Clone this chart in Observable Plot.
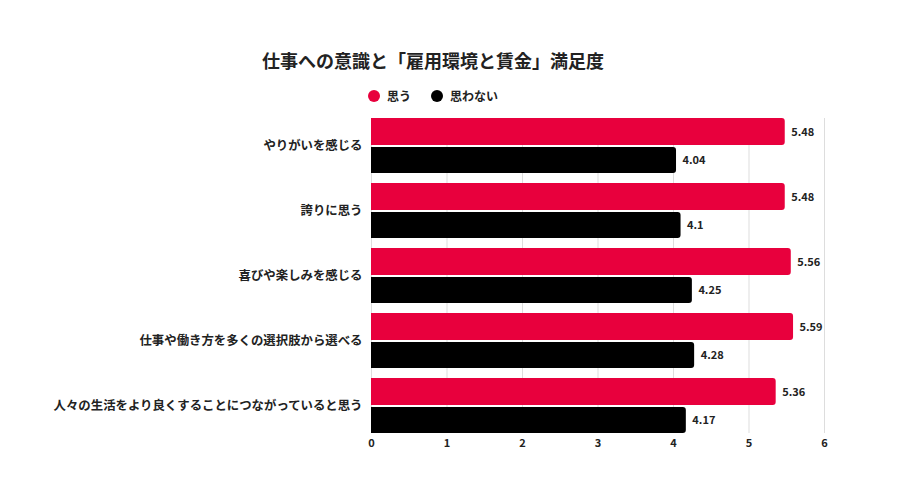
<!DOCTYPE html>
<html>
<head>
<meta charset="utf-8">
<script src="https://cdn.jsdelivr.net/npm/d3@7"></script>
<script src="https://cdn.jsdelivr.net/npm/@observablehq/plot@0.6"></script>
<style>
  html, body { margin: 0; padding: 0; background: #fff; }
  body { width: 900px; height: 500px; position: relative; overflow: hidden;
         font-family: "Noto Sans CJK JP", "Noto Sans", sans-serif; color: #222; }
  #title { position: absolute; left: 262px; top: 48px; font-size: 18px; font-weight: 700; line-height: 24px; white-space: nowrap; }
  #legend { position: absolute; left: 368px; top: 88px; font-size: 12px; font-weight: 700; line-height: 16px; display: flex; align-items: center; white-space: nowrap; }
  .item { display: flex; align-items: center; margin-right: 20px; }
  .dot { width: 12px; height: 12px; border-radius: 50%; display: inline-block; margin-right: 7px; }
  #chart { position: absolute; left: 0; top: 105px; }
</style>
</head>
<body>
<div id="title"></div>
<div id="legend"></div>
<div id="chart"></div>
<script>
const titleText = "仕事への意識と「雇用環境と賃金」満足度";
const categories = [
  "やりがいを感じる",
  "誇りに思う",
  "喜びや楽しみを感じる",
  "仕事や働き方を多くの選択肢から選べる",
  "人々の生活をより良くすることにつながっていると思う"
];
const seriesNames = ["思う", "思わない"];
const seriesColors = ["#e8003d", "#000000"];
const valuesYes = [5.48, 5.48, 5.56, 5.59, 5.36];
const valuesNo = [4.04, 4.1, 4.25, 4.28, 4.17];
const xTicks = [0, 1, 2, 3, 4, 5, 6];

document.getElementById("title").textContent = titleText;
const legend = document.getElementById("legend");
seriesNames.forEach((name, i) => {
  const item = document.createElement("span");
  item.className = "item";
  const dot = document.createElement("span");
  dot.className = "dot";
  dot.style.background = seriesColors[i];
  item.appendChild(dot);
  item.appendChild(document.createTextNode(name));
  legend.appendChild(item);
});

const yes = categories.map((c, i) => ({category: c, value: valuesYes[i]}));
const no = categories.map((c, i) => ({category: c, value: valuesNo[i]}));

const chart = Plot.plot({
  width: 900,
  height: 360,
  marginLeft: 371,
  marginRight: 76,
  marginTop: 13,
  marginBottom: 32,
  style: {fontFamily: "'Noto Sans CJK JP', 'Noto Sans', sans-serif", color: "#222", background: "transparent"},
  x: {domain: [0, 6], ticks: xTicks, label: null},
  y: {domain: categories, paddingInner: 10/65, paddingOuter: 0, label: null},
  marks: [
    Plot.ruleX(xTicks, {stroke: "#dddddd", strokeWidth: 1}),
    Plot.barX(yes, {x: "value", y: "category", fill: seriesColors[0], insetBottom: 28, rx2: 3}),
    Plot.barX(no, {x: "value", y: "category", fill: seriesColors[1], insetTop: 29, rx2: 3}),
    Plot.text(yes, {x: "value", y: "category", text: d => String(d.value), dx: 6, dy: -14, textAnchor: "start", fontSize: 11, fontWeight: 700, fill: "#222"}),
    Plot.text(no, {x: "value", y: "category", text: d => String(d.value), dx: 6, dy: 14, textAnchor: "start", fontSize: 11, fontWeight: 700, fill: "#222"}),
    Plot.axisX({ticks: xTicks, tickSize: 0, tickPadding: 6, fontSize: 11, fontWeight: 700, label: null, tickFormat: d => String(d)}),
    Plot.axisY({tickSize: 0, tickPadding: 9, fontSize: 12.4, fontWeight: 700, label: null})
  ]
});
document.getElementById("chart").appendChild(chart);
</script>
</body>
</html>
